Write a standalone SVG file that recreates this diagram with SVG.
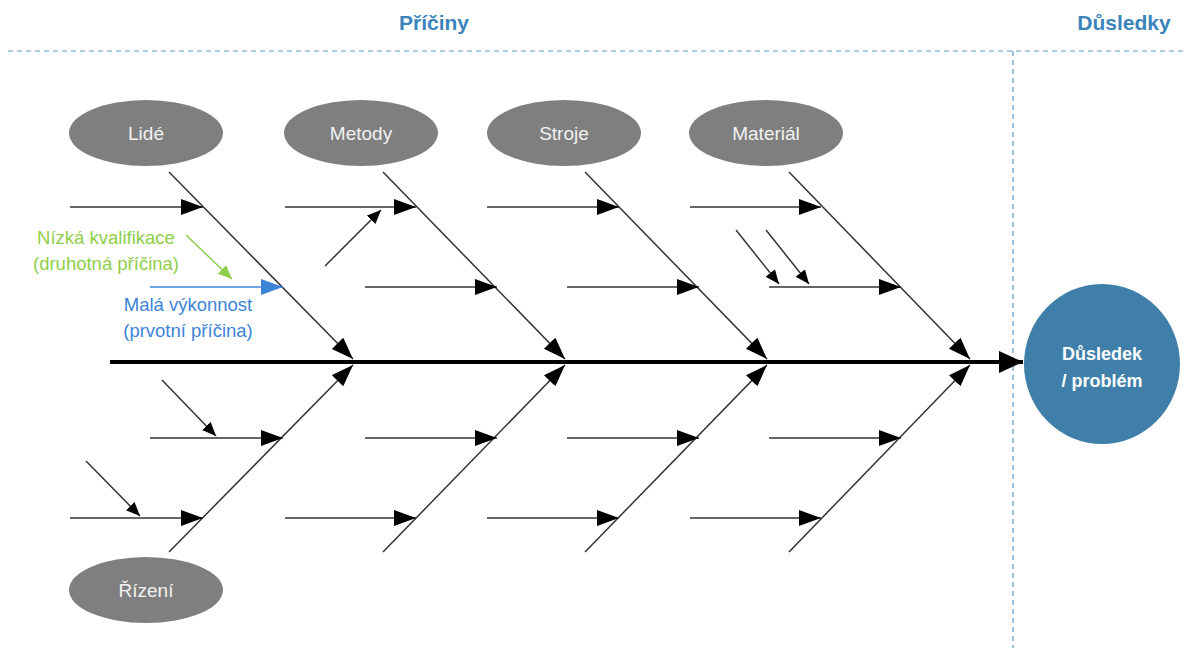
<svg xmlns="http://www.w3.org/2000/svg" width="1187" height="648" viewBox="0 0 1187 648">
<style>
.hdr{font-family:"Liberation Sans",Arial,sans-serif;font-weight:bold;font-size:21px;fill:#3a84bb;text-anchor:middle}
.cat{fill:#7f7f7f}
.catt{font-family:"Liberation Sans",Arial,sans-serif;font-size:19px;fill:#f2f2f2;text-anchor:middle}
.res{font-family:"Liberation Sans",Arial,sans-serif;font-size:18px;font-weight:bold;fill:#fff;text-anchor:middle}
.ln{stroke:#333;stroke-width:1.5;fill:none}
.dash{stroke:#5b9bc8;stroke-width:1.2;stroke-dasharray:5,4;fill:none}
.ann{font-family:"Liberation Sans",Arial,sans-serif;font-size:18.5px;text-anchor:middle}
</style>
<defs>
<marker id="ah" markerUnits="userSpaceOnUse" markerWidth="24" markerHeight="18" refX="22" refY="8" orient="auto"><path d="M0,0 L22,8 L0,16 z" fill="#000"/></marker>
<marker id="ahs" markerUnits="userSpaceOnUse" markerWidth="16" markerHeight="14" refX="14" refY="6" orient="auto"><path d="M0,0 L14,6 L0,12 z" fill="#000"/></marker>
<marker id="ahb" markerUnits="userSpaceOnUse" markerWidth="24" markerHeight="18" refX="22" refY="8" orient="auto"><path d="M0,0 L22,8 L0,16 z" fill="#3c84d8"/></marker>
<marker id="ahg" markerUnits="userSpaceOnUse" markerWidth="16" markerHeight="14" refX="14" refY="6" orient="auto"><path d="M0,0 L14,6 L0,12 z" fill="#8fce4a"/></marker>
<marker id="ahm" markerUnits="userSpaceOnUse" markerWidth="26" markerHeight="24" refX="24" refY="11" orient="auto"><path d="M0,0 L24,11 L0,22 z" fill="#000"/></marker>
</defs>
<rect width="1187" height="648" fill="#fff"/>
<text class="hdr" x="434" y="30">Příčiny</text>
<text class="hdr" x="1124" y="30">Důsledky</text>
<path class="dash" d="M8,51 H1187 M1013,51 V648"/>

<g id="connectors">
<line x1="110" y1="362" x2="1023" y2="362" stroke="#000" stroke-width="4" marker-end="url(#ahm)"/>
<line class="ln" x1="169" y1="172" x2="353" y2="359" marker-end="url(#ah)"/>
<line class="ln" x1="383" y1="172" x2="565" y2="359" marker-end="url(#ah)"/>
<line class="ln" x1="585" y1="172" x2="767" y2="359" marker-end="url(#ah)"/>
<line class="ln" x1="789" y1="172" x2="970" y2="359" marker-end="url(#ah)"/>
<line class="ln" x1="169" y1="552" x2="353" y2="365" marker-end="url(#ah)"/>
<line class="ln" x1="383" y1="552" x2="565" y2="365" marker-end="url(#ah)"/>
<line class="ln" x1="585" y1="552" x2="767" y2="365" marker-end="url(#ah)"/>
<line class="ln" x1="789" y1="552" x2="970" y2="365" marker-end="url(#ah)"/>
<line class="ln" x1="70" y1="207" x2="203" y2="207" marker-end="url(#ah)"/>
<line class="ln" x1="285" y1="207" x2="416" y2="207" marker-end="url(#ah)"/>
<line class="ln" x1="487" y1="207" x2="619" y2="207" marker-end="url(#ah)"/>
<line class="ln" x1="690" y1="207" x2="821" y2="207" marker-end="url(#ah)"/>
<line x1="150" y1="287" x2="283" y2="287" stroke="#3c84d8" stroke-width="1.5" marker-end="url(#ahb)"/>
<line class="ln" x1="365" y1="287" x2="497" y2="287" marker-end="url(#ah)"/>
<line class="ln" x1="567" y1="287" x2="699" y2="287" marker-end="url(#ah)"/>
<line class="ln" x1="769" y1="287" x2="901" y2="287" marker-end="url(#ah)"/>
<line class="ln" x1="150" y1="438" x2="283" y2="438" marker-end="url(#ah)"/>
<line class="ln" x1="365" y1="438" x2="497" y2="438" marker-end="url(#ah)"/>
<line class="ln" x1="567" y1="438" x2="699" y2="438" marker-end="url(#ah)"/>
<line class="ln" x1="769" y1="438" x2="901" y2="438" marker-end="url(#ah)"/>
<line class="ln" x1="70" y1="518" x2="203" y2="518" marker-end="url(#ah)"/>
<line class="ln" x1="285" y1="518" x2="416" y2="518" marker-end="url(#ah)"/>
<line class="ln" x1="487" y1="518" x2="619" y2="518" marker-end="url(#ah)"/>
<line class="ln" x1="690" y1="518" x2="821" y2="518" marker-end="url(#ah)"/>
<line class="ln" x1="325" y1="266" x2="381" y2="210" marker-end="url(#ahs)"/>
<line class="ln" x1="736" y1="230" x2="779" y2="284" marker-end="url(#ahs)"/>
<line class="ln" x1="766" y1="230" x2="809" y2="284" marker-end="url(#ahs)"/>
<line class="ln" x1="162" y1="380" x2="216" y2="436" marker-end="url(#ahs)"/>
<line class="ln" x1="86" y1="461" x2="140" y2="516" marker-end="url(#ahs)"/>
<line x1="186" y1="235" x2="232" y2="279" stroke="#8fce4a" stroke-width="1.5" marker-end="url(#ahg)"/>
</g>

<g id="lide"><ellipse class="cat" cx="146" cy="133" rx="77" ry="33"/><text class="catt" x="146" y="140">Lidé</text></g>
<g id="metody"><ellipse class="cat" cx="361" cy="133" rx="77" ry="33"/><text class="catt" x="361" y="140">Metody</text></g>
<g id="stroje"><ellipse class="cat" cx="564" cy="133" rx="77" ry="33"/><text class="catt" x="564" y="140">Stroje</text></g>
<g id="material"><ellipse class="cat" cx="766" cy="133" rx="77" ry="33"/><text class="catt" x="766" y="140">Materiál</text></g>
<g id="rizeni"><ellipse class="cat" cx="146" cy="590" rx="77" ry="33"/><text class="catt" x="146" y="597">Řízení</text></g>

<g id="dusledek">
<ellipse cx="1102" cy="364" rx="78" ry="80" fill="#3f7faa"/>
<text class="res" x="1102" y="360">Důsledek</text>
<text class="res" x="1102" y="387">/ problém</text>
</g>

<g id="annotations">
<text class="ann" x="106" y="244" fill="#8fce4a">Nízká kvalifikace</text>
<text class="ann" x="106" y="270" fill="#8fce4a">(druhotná příčina)</text>
<text class="ann" x="188" y="311" fill="#3c84d8">Malá výkonnost</text>
<text class="ann" x="188" y="337" fill="#3c84d8">(prvotní příčina)</text>
</g>
</svg>
